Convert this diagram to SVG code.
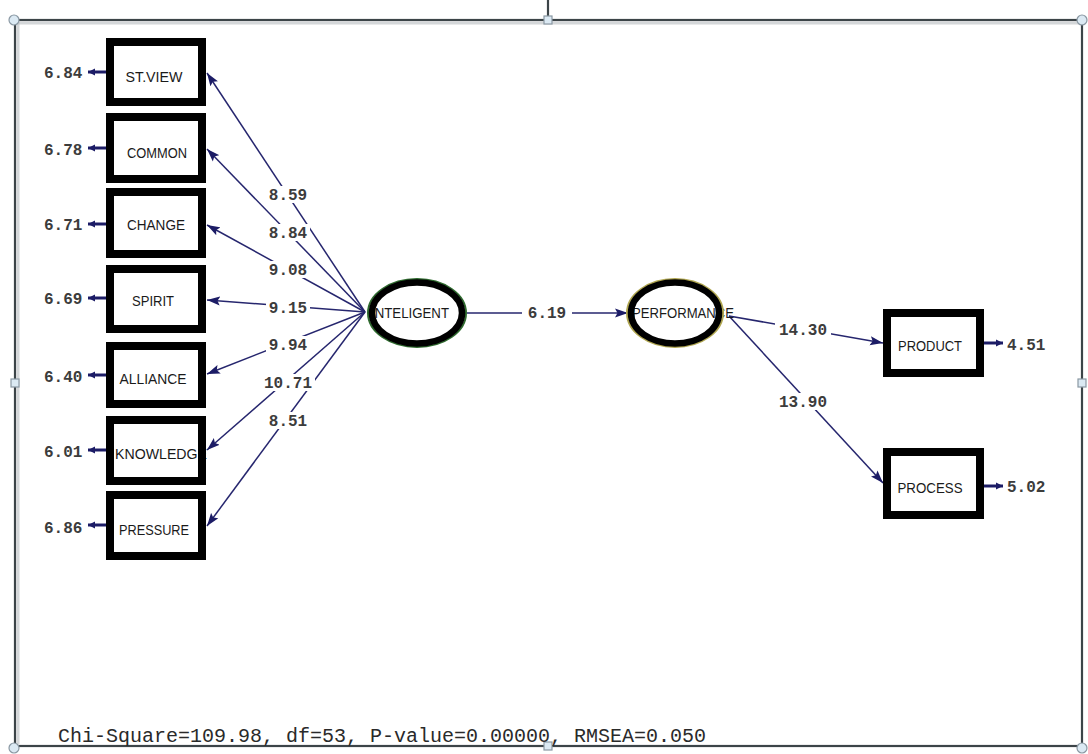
<svg xmlns="http://www.w3.org/2000/svg" width="1088" height="754" viewBox="0 0 1088 754">
<style>
.frame{stroke:#3c4448;stroke-width:2.2;fill:none}
.shadow{stroke:#b8bcbf;stroke-width:3;fill:none;opacity:0.6}
.hc{fill:#dbe9f3;stroke:#8a98a3;stroke-width:1.2}
.box{fill:#fff;stroke:none}
.boxs{fill:none;stroke:#000;stroke-width:8}
.lbl{font-family:"Liberation Sans",Arial,sans-serif;font-size:15px;fill:#1a1a1a;text-anchor:middle}
.num{font-family:"Liberation Mono","Courier New",monospace;font-size:16px;font-weight:bold;fill:#3c3c3c}
.numc{text-anchor:middle}
.pth{stroke:#26266e;stroke-width:1.5;fill:none}
.err{stroke:#1c1c66;stroke-width:3;fill:none}
.gap{fill:#fff}
</style>
<defs>
<marker id="ah" markerUnits="userSpaceOnUse" markerWidth="14" markerHeight="10" refX="13" refY="5" orient="auto">
<path d="M0,0.5 L13,5 L0,9.5 L2.5,5 z" fill="#1c1c66"/>
</marker>
<marker id="eh" markerUnits="userSpaceOnUse" markerWidth="8" markerHeight="8" refX="7" refY="4" orient="auto">
<path d="M0,0.5 L7,4 L0,7.5 z" fill="#1c1c66"/>
</marker>
</defs>
<rect width="1088" height="754" fill="#fff"/>

<g id="frame">
<line class="shadow" x1="16" y1="23" x2="1080" y2="23"/>
<line class="shadow" x1="18" y1="22" x2="18" y2="744"/>
<line class="frame" x1="548" y1="0" x2="548" y2="18"/>
<rect class="frame" x="15" y="20" width="1067" height="726"/>
<circle class="hc" cx="14" cy="20" r="5"/>
<circle class="hc" cx="1082" cy="20" r="5"/>
<circle class="hc" cx="14" cy="748" r="5"/>
<circle class="hc" cx="1082" cy="748" r="5"/>
<rect class="hc" x="544" y="16" width="8" height="8"/>
<rect class="hc" x="11" y="379" width="8" height="8"/>
<rect class="hc" x="1078" y="379" width="8" height="8"/>
<rect class="hc" x="544" y="742" width="8" height="8"/>
</g>

<g id="connectors">
<line class="pth" x1="365" y1="312" x2="207" y2="73" marker-end="url(#ah)"/>
<line class="pth" x1="365" y1="312" x2="207" y2="149" marker-end="url(#ah)"/>
<line class="pth" x1="365" y1="312" x2="207" y2="225" marker-end="url(#ah)"/>
<line class="pth" x1="365" y1="312" x2="207" y2="300" marker-end="url(#ah)"/>
<line class="pth" x1="365" y1="312" x2="207" y2="374" marker-end="url(#ah)"/>
<line class="pth" x1="365" y1="312" x2="207" y2="450" marker-end="url(#ah)"/>
<line class="pth" x1="365" y1="312" x2="207" y2="526" marker-end="url(#ah)"/>
<line class="pth" x1="467" y1="313" x2="628" y2="313" marker-end="url(#ah)"/>
<line class="pth" x1="729" y1="316" x2="883" y2="343" marker-end="url(#ah)"/>
<line class="pth" x1="729" y1="316" x2="883" y2="483" marker-end="url(#ah)"/>
<line class="err" x1="106" y1="72" x2="88" y2="72" marker-end="url(#eh)"/>
<line class="err" x1="106" y1="148" x2="88" y2="148" marker-end="url(#eh)"/>
<line class="err" x1="106" y1="224" x2="88" y2="224" marker-end="url(#eh)"/>
<line class="err" x1="106" y1="298" x2="88" y2="298" marker-end="url(#eh)"/>
<line class="err" x1="106" y1="375" x2="88" y2="375" marker-end="url(#eh)"/>
<line class="err" x1="106" y1="450" x2="88" y2="450" marker-end="url(#eh)"/>
<line class="err" x1="106" y1="525" x2="88" y2="525" marker-end="url(#eh)"/>
<line class="err" x1="984" y1="343" x2="1003" y2="343" marker-end="url(#eh)"/>
<line class="err" x1="984" y1="486" x2="1003" y2="486" marker-end="url(#eh)"/>

<rect class="gap" x="266" y="186" width="44" height="17"/>
<rect class="gap" x="266" y="224" width="44" height="17"/>
<rect class="gap" x="266" y="261" width="44" height="17"/>
<rect class="gap" x="266" y="299" width="44" height="17"/>
<rect class="gap" x="266" y="336" width="44" height="17"/>
<rect class="gap" x="261" y="374" width="54" height="17"/>
<rect class="gap" x="266" y="412" width="44" height="17"/>
<rect class="gap" x="522" y="304" width="50" height="17"/>
<rect class="gap" x="775" y="321" width="56" height="17"/>
<rect class="gap" x="775" y="393" width="56" height="17"/>

<text class="num numc" x="288" y="200">8.59</text>
<text class="num numc" x="288" y="238">8.84</text>
<text class="num numc" x="288" y="275">9.08</text>
<text class="num numc" x="288" y="313">9.15</text>
<text class="num numc" x="288" y="350">9.94</text>
<text class="num numc" x="288" y="388">10.71</text>
<text class="num numc" x="288" y="426">8.51</text>
<text class="num numc" x="547" y="318">6.19</text>
<text class="num numc" x="803" y="335">14.30</text>
<text class="num numc" x="803" y="407">13.90</text>
</g>

<g id="res-labels">
<text class="num" x="44" y="78">6.84</text>
<text class="num" x="44" y="155">6.78</text>
<text class="num" x="44" y="230">6.71</text>
<text class="num" x="44" y="304">6.69</text>
<text class="num" x="44" y="382">6.40</text>
<text class="num" x="44" y="457">6.01</text>
<text class="num" x="44" y="533">6.86</text>
<text class="num" x="1007" y="350">4.51</text>
<text class="num" x="1007" y="492">5.02</text>
</g>

<g id="n-stview"><rect class="box" x="110" y="42" width="92" height="60"/><text class="lbl" x="154" y="82" textLength="57" lengthAdjust="spacingAndGlyphs">ST.VIEW</text><rect class="boxs" x="110" y="42" width="92" height="60"/></g>
<g id="n-common"><rect class="box" x="110" y="117" width="92" height="62"/><text class="lbl" x="157" y="158" textLength="60" lengthAdjust="spacingAndGlyphs">COMMON</text><rect class="boxs" x="110" y="117" width="92" height="62"/></g>
<g id="n-change"><rect class="box" x="110" y="192" width="92" height="62"/><text class="lbl" x="156" y="230" textLength="58" lengthAdjust="spacingAndGlyphs">CHANGE</text><rect class="boxs" x="110" y="192" width="92" height="62"/></g>
<g id="n-spirit"><rect class="box" x="110" y="269" width="92" height="60"/><text class="lbl" x="153" y="306" textLength="42" lengthAdjust="spacingAndGlyphs">SPIRIT</text><rect class="boxs" x="110" y="269" width="92" height="60"/></g>
<g id="n-alliance"><rect class="box" x="110" y="346" width="92" height="58"/><text class="lbl" x="153" y="384" textLength="67" lengthAdjust="spacingAndGlyphs">ALLIANCE</text><rect class="boxs" x="110" y="346" width="92" height="58"/></g>
<g id="n-knowledge"><rect class="box" x="110" y="420" width="92" height="61"/><text class="lbl" x="161" y="459" textLength="92" lengthAdjust="spacingAndGlyphs">KNOWLEDGE</text><rect class="boxs" x="110" y="420" width="92" height="61"/></g>
<g id="n-pressure"><rect class="box" x="110" y="495" width="92" height="61"/><text class="lbl" x="154" y="535" textLength="70" lengthAdjust="spacingAndGlyphs">PRESSURE</text><rect class="boxs" x="110" y="495" width="92" height="61"/></g>
<g id="n-product"><rect class="box" x="887" y="313" width="93" height="60"/><text class="lbl" x="930" y="351" textLength="64" lengthAdjust="spacingAndGlyphs">PRODUCT</text><rect class="boxs" x="887" y="313" width="93" height="60"/></g>
<g id="n-process"><rect class="box" x="887" y="452" width="93" height="63"/><text class="lbl" x="930" y="493" textLength="65" lengthAdjust="spacingAndGlyphs">PROCESS</text><rect class="boxs" x="887" y="452" width="93" height="63"/></g>

<g id="n-inteligent">
<ellipse cx="417" cy="313" rx="46" ry="31" fill="#fff"/>
<text class="lbl" x="410" y="318" textLength="78" lengthAdjust="spacingAndGlyphs">INTELIGENT</text>
<ellipse cx="417" cy="313" rx="49" ry="34" fill="none" stroke="#2f6b2f" stroke-width="2"/>
<ellipse cx="417" cy="313" rx="45" ry="30.5" fill="none" stroke="#000" stroke-width="6.5"/>
</g>
<g id="n-performance">
<ellipse cx="675" cy="313" rx="45" ry="31" fill="#fff"/>
<text class="lbl" x="683" y="318" textLength="102" lengthAdjust="spacingAndGlyphs">PERFORMANCE</text>
<ellipse cx="675" cy="313" rx="48" ry="34" fill="none" stroke="#b0a650" stroke-width="2"/>
<ellipse cx="675" cy="313" rx="44" ry="30.5" fill="none" stroke="#000" stroke-width="6.5"/>
</g>

<text x="58" y="742" font-family="'Liberation Mono','Courier New',monospace" font-size="20" fill="#2a2a2a">Chi-Square=109.98, df=53, P-value=0.00000, RMSEA=0.050</text>
</svg>
